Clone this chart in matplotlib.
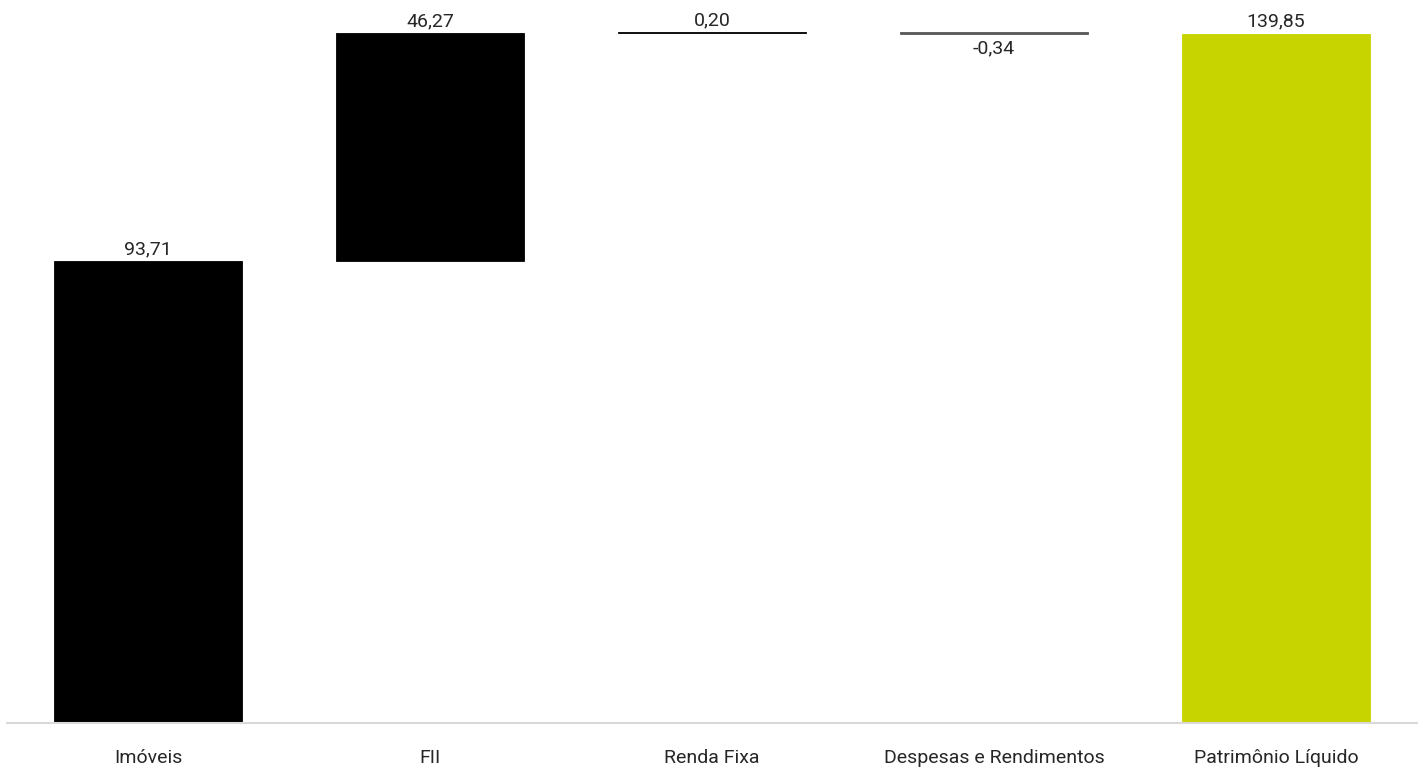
import matplotlib
matplotlib.use('Agg')
import matplotlib.pyplot as plt
import numpy as np

categories = ['Imóveis', 'FII', 'Renda Fixa', 'Despesas e Rendimentos', 'Patrimônio Líquido']
values = [93.71, 46.27, 0.20, -0.34, 139.85]
labels = ['93,71', '46,27', '0,20', '-0,34', '139,85']
colors = ['#000000', '#000000', '#000000', '#595959', '#c8d400']

plt.rcParams['font.family'] = ['Roboto', 'DejaVu Sans']

# waterfall bottoms: running total, last bar is a total from zero
bottoms = []
running = 0.0
for i, v in enumerate(values):
    if i == len(values) - 1:
        bottoms.append(0.0)
    else:
        bottoms.append(running if v >= 0 else running + v)
        running += v
heights = [abs(v) for v in values]

fig = plt.figure(figsize=(14.23, 7.74), dpi=100)
ax = fig.add_axes([7 / 1423, 51 / 774, 1410 / 1423, 723 / 774])

x = np.arange(len(categories))
ax.bar(x, heights, bottom=bottoms, width=0.667, color=colors,
       edgecolor=colors, linewidth=0.6)

for i, (b, h, lab, v) in enumerate(zip(bottoms, heights, labels, values)):
    if v >= 0:
        ax.text(x[i], b + h + 0.6, lab, ha='center', va='bottom',
                fontsize=14, color='#262626')
    else:
        ax.text(x[i], b - 1.2, lab, ha='center', va='top',
                fontsize=14, color='#262626')

ax.set_xlim(-0.5, len(categories) - 0.5)
ax.set_ylim(0, 146.7)
ax.set_xticks(x)
ax.set_xticklabels(categories, fontsize=14, color='#262626')
ax.tick_params(axis='x', length=0, pad=19)
ax.set_yticks([])
for s in ['top', 'left', 'right']:
    ax.spines[s].set_visible(False)
ax.spines['bottom'].set_color('#d9d9d9')
ax.spines['bottom'].set_linewidth(1.5)

fig.savefig('out.png', dpi=100)
